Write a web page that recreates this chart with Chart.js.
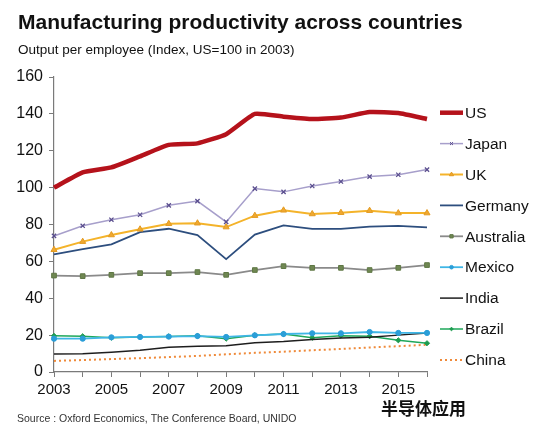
<!DOCTYPE html>
<html>
<head>
<meta charset="utf-8">
<script src="https://cdn.jsdelivr.net/npm/chart.js@4.4.0/dist/chart.umd.min.js"></script>
<style>
  html, body { margin: 0; padding: 0; background: #fff; }
  #wrap { width: 550px; height: 443px; }
</style>
</head>
<body>
<div id="wrap"><canvas id="grafico" width="550" height="443"></canvas></div>
<script>
// ---- data ----
const anos = ["2003","2004","2005","2006","2007","2008","2009","2010","2011","2012","2013","2014","2015","2016"];

const us        = [100, 108.3, 111, 117, 123.2, 124, 129, 140, 138.5, 137.2, 138, 141, 140.5, 137.2];
const japan     = [73.8, 79.3, 82.6, 85.3, 90.4, 92.7, 81.4, 99.5, 97.7, 100.9, 103.3, 106, 107, 109.8];
const uk        = [66.3, 70.7, 74.3, 77.4, 80.4, 80.7, 78.6, 84.8, 87.7, 85.7, 86.4, 87.5, 86.2, 86.2];
const germany   = [63.8, 66.7, 69.2, 75.9, 77.7, 74.3, 61.2, 74.5, 79.5, 77.6, 77.6, 78.8, 79.2, 78.4];
const australia = [52.3, 52, 52.7, 53.6, 53.6, 54.2, 52.7, 55.3, 57.4, 56.5, 56.5, 55.3, 56.5, 58];
const mexico    = [18.1, 18.1, 18.8, 19, 19.2, 19.5, 19, 19.9, 20.6, 21, 21, 21.7, 21.2, 21.2];
const india     = [9.8, 9.9, 10.7, 11.8, 13.4, 14, 14.3, 15.9, 16.5, 17.6, 18.4, 18.8, 20, 21.2];
const brazil    = [19.6, 19.4, 18.6, 19, 19.3, 19.6, 18.1, 19.9, 20.6, 18.6, 19.7, 19.4, 17.2, 15.6];
const china     = [6, 6.5, 7, 7.5, 8.1, 8.7, 9.6, 10.4, 11, 11.8, 12.5, 13.3, 14, 14.8];

const yMin = 0, yMax = 160, yStep = 20;

const fonte = "Arial, 'Liberation Sans', sans-serif";

// ---- textos e legenda desenhados no canvas ----
const extras = {
    id: "extras",
    afterDraw(chart) {
        const ctx = chart.ctx;
        ctx.save();
        ctx.fillStyle = "#111";
        ctx.textBaseline = "middle";
        ctx.textAlign = "left";

        ctx.font = "bold 21px " + fonte;
        ctx.fillText("Manufacturing productivity across countries", 18, 23);

        ctx.font = "13.5px " + fonte;
        ctx.fillText("Output per employee (Index, US=100 in 2003)", 18, 50);

        ctx.fillStyle = "#333";
        ctx.font = "10.5px " + fonte;
        ctx.fillText("Source : Oxford Economics, The Conference Board, UNIDO", 17, 419);

        ctx.fillStyle = "#111";
        ctx.font = "bold 17px 'Noto Sans CJK SC'";
        ctx.fillText("半导体应用", 381, 409);

        // legenda
        const x0 = 440, x1 = 463;
        chart.data.datasets.forEach((ds, i) => {
            const y = 112.7 + i * 30.9;
            ctx.save();
            ctx.strokeStyle = ds.borderColor;
            ctx.lineWidth = ds.legendWidth || 1.5;
            ctx.setLineDash(ds.borderDash || []);
            ctx.beginPath();
            ctx.moveTo(x0, y);
            ctx.lineTo(x1, y);
            ctx.stroke();
            ctx.setLineDash([]);
            if (ds.pointRadius > 0) {
                ctx.fillStyle = ds.pointBackgroundColor;
                ctx.strokeStyle = ds.pointBorderColor;
                ctx.lineWidth = 1;
                Chart.helpers.drawPoint(ctx, {
                    pointStyle: ds.pointStyle,
                    radius: ds.pointRadius * 0.7,
                    rotation: 0,
                    borderWidth: 1
                }, (x0 + x1) / 2, y);
            }
            ctx.restore();
            ctx.fillStyle = "#111";
            ctx.font = "15.5px " + fonte;
            ctx.fillText(ds.label, 465, y + 1);
        });
        ctx.restore();
    }
};

function serie(label, data, cor, largura, extra) {
    return Object.assign({
        label: label,
        data: data,
        borderColor: cor,
        borderWidth: largura,
        legendWidth: largura,
        pointRadius: 0,
        pointHoverRadius: 0,
        tension: 0,
        fill: false
    }, extra || {});
}

const datasets = [
    serie("US", us, "#b5121b", 4.5, { tension: 0.15, legendWidth: 4.5 }),
    serie("Japan", japan, "#a79fcb", 1.5, {
        pointRadius: 3, pointStyle: "crossRot",
        pointBackgroundColor: "#5b4f8f", pointBorderColor: "#5b4f8f", pointBorderWidth: 1.3
    }),
    serie("UK", uk, "#f4b32a", 2, {
        pointRadius: 3.5, pointStyle: "triangle",
        pointBackgroundColor: "#f0a830", pointBorderColor: "#e39b22", pointBorderWidth: 1
    }),
    serie("Germany", germany, "#2d4e7e", 1.8),
    serie("Australia", australia, "#8a8a8a", 1.8, {
        pointRadius: 3.3, pointStyle: "rect",
        pointBackgroundColor: "#6f8752", pointBorderColor: "#5f7745", pointBorderWidth: 1
    }),
    serie("Mexico", mexico, "#3fb6e6", 1.8, {
        pointRadius: 2.6, pointStyle: "circle",
        pointBackgroundColor: "#2a9ed8", pointBorderColor: "#2a9ed8", pointBorderWidth: 1
    }),
    serie("India", india, "#1e1e1e", 1.5),
    serie("Brazil", brazil, "#1ea75a", 1.5, {
        pointRadius: 2.6, pointStyle: "rectRot",
        pointBackgroundColor: "#1e9c50", pointBorderColor: "#1e9c50", pointBorderWidth: 1
    }),
    serie("China", china, "#ef8a3a", 2, { borderDash: [2, 3] })
];

new Chart(document.getElementById("grafico"), {
    type: "line",
    data: { labels: anos, datasets: datasets },
    options: {
        responsive: false,
        animation: false,
        layout: { padding: { top: 77, right: 123, bottom: 0, left: 0 } },
        plugins: {
            legend: { display: false },
            title: { display: false },
            tooltip: { enabled: false }
        },
        scales: {
            x: {
                offset: false,
                afterFit: s => { s.height = 71; },
                border: { color: "#7a7a7a", width: 1.2 },
                grid: { drawOnChartArea: false, drawTicks: true, tickLength: 5, color: "#7a7a7a" },
                ticks: {
                    autoSkip: false,
                    maxRotation: 0,
                    padding: 4,
                    color: "#111",
                    font: { size: 15, family: fonte },
                    callback: (v, i) => (i % 2 === 0 ? anos[i] : "")
                }
            },
            y: {
                min: yMin,
                max: yMax,
                afterFit: s => { s.width = 54; },
                border: { color: "#7a7a7a", width: 1.2 },
                grid: { drawOnChartArea: false, drawTicks: true, tickLength: 5, color: "#7a7a7a" },
                ticks: {
                    stepSize: yStep,
                    padding: 6,
                    color: "#111",
                    font: { size: 16, family: fonte }
                }
            }
        }
    },
    plugins: [extras]
});
</script>
</body>
</html>
